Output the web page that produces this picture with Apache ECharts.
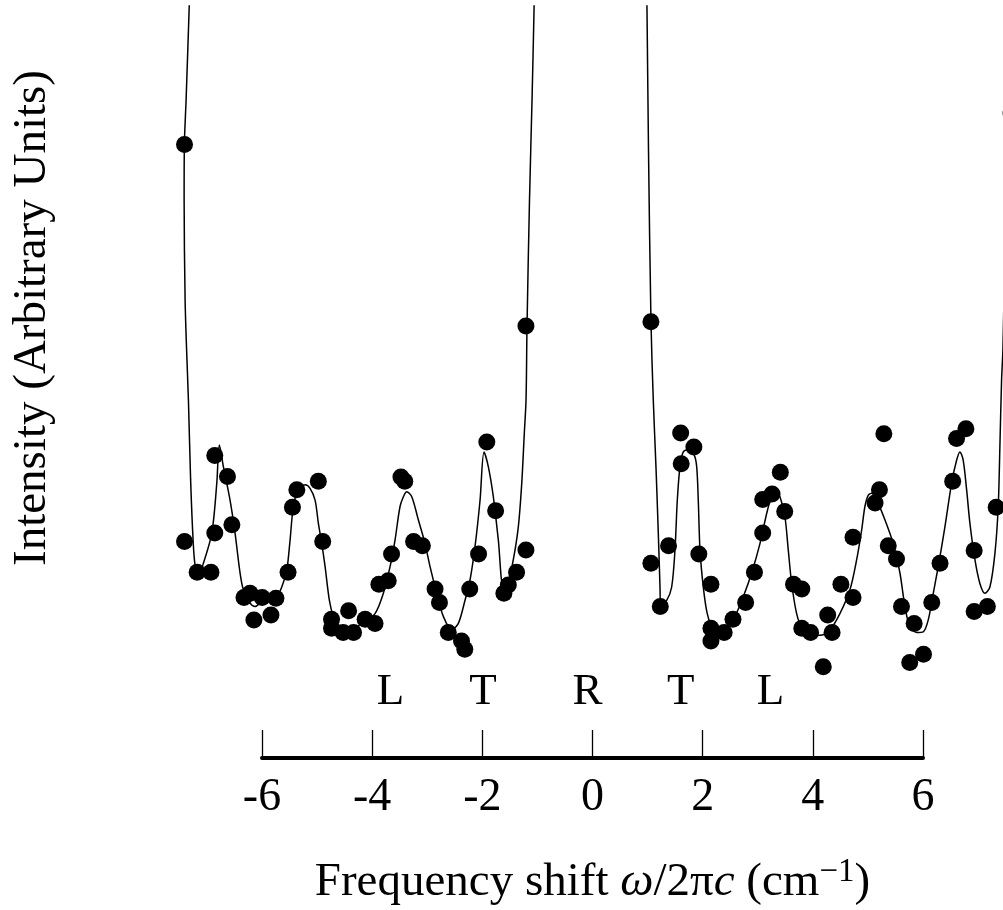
<!DOCTYPE html>
<html><head><meta charset="utf-8">
<script src="https://cdn.jsdelivr.net/npm/echarts@6/dist/echarts.min.js"></script>
<style>html,body{margin:0;padding:0;background:#fff}#c{width:1003px;height:910px}</style>
</head><body><div id="c"></div>
<script>
// Measured data points [frequency shift (cm^-1), intensity (arb.)]
const pointsNeg = [
  [-7.40,80.2],[-7.40,23.5],[-7.17,19.1],[-6.92,19.1],[-6.85,35.8],[-6.85,24.7],
  [-6.62,32.8],[-6.54,25.9],[-6.32,15.5],[-6.21,16.1],[-6.14,12.3],[-5.99,15.5],
  [-5.83,13.0],[-5.74,15.4],[-5.52,19.1],[-5.44,28.4],[-5.36,30.9],[-4.97,32.1],
  [-4.89,23.5],[-4.73,12.4],[-4.73,11.1],[-4.52,10.5],[-4.42,13.6],[-4.33,10.5],
  [-4.12,12.4],[-3.94,11.8],[-3.87,17.4],[-3.70,17.9],[-3.64,21.7],[-3.47,32.7],
  [-3.40,32.1],[-3.24,23.5],[-3.08,22.9],[-2.85,16.7],[-2.77,14.8],[-2.61,10.5],
  [-2.37,9.3],[-2.31,8.1],[-2.22,16.7],[-2.06,21.7],[-1.91,37.7],[-1.75,27.9],
  [-1.60,16.1],[-1.52,17.3],[-1.37,19.1],[-1.20,22.3],[-1.20,54.3]
];
const pointsPos = [
  [1.07,54.9],[1.07,20.4],[1.24,14.2],[1.39,22.9],[1.61,39.0],[1.62,34.6],
  [1.85,37.0],[1.94,21.7],[2.16,17.4],[2.16,11.1],[2.16,9.3],[2.40,10.5],
  [2.56,12.4],[2.79,14.8],[2.95,19.1],[3.10,24.7],[3.10,29.5],[3.27,30.3],
  [3.42,33.4],[3.50,27.8],[3.66,17.4],[3.81,16.7],[3.81,11.1],[3.97,10.5],
  [4.20,5.6],[4.28,13.0],[4.36,10.5],[4.52,17.4],[4.74,15.5],[4.74,24.1],
  [5.14,29.0],[5.22,30.9],[5.30,38.9],[5.38,22.9],[5.53,21.0],[5.62,14.2],
  [5.77,6.2],[5.85,11.8],[6.02,7.4],[6.17,14.8],[6.32,20.4],[6.55,32.1],
  [6.62,38.2],[6.79,39.6],[6.94,22.2],[6.94,13.5],[7.18,14.2],[7.34,28.4],
  [7.61,84.7]
];
// Fitted curve
const fitNeg = [
  [-7.299,103.7],[-7.317,99.3],[-7.371,86.6],[-7.402,80.3],[-7.407,72.3],[-7.389,58.0],
  [-7.362,50.9],[-7.329,43.7],[-7.289,32.3],[-7.244,23.7],[-7.208,20.1],[-7.148,18.7],
  [-7.057,20.4],[-6.904,24.7],[-6.814,31.8],[-6.767,37.3],[-6.694,34.2],[-6.573,29.4],
  [-6.482,24.7],[-6.391,19.0],[-6.331,16.6],[-6.209,14.7],[-6.118,14.2],[-5.997,14.9],
  [-5.846,15.1],[-5.724,15.6],[-5.634,17.0],[-5.543,19.4],[-5.483,23.7],[-5.423,28.5],
  [-5.332,30.9],[-5.211,31.6],[-5.120,31.1],[-5.029,29.4],[-4.969,26.1],[-4.907,23.2],
  [-4.847,19.9],[-4.769,15.1],[-4.697,12.8],[-4.606,11.6],[-4.484,10.9],[-4.339,11.0],
  [-4.152,12.0],[-3.940,13.2],[-3.789,16.1],[-3.667,19.9],[-3.577,23.7],[-3.486,28.5],
  [-3.413,30.1],[-3.364,30.6],[-3.273,29.9],[-3.154,26.6],[-3.032,23.2],[-2.941,19.9],
  [-2.820,16.1],[-2.700,12.8],[-2.547,10.9],[-2.427,11.8],[-2.306,15.1],[-2.215,18.0],
  [-2.124,22.8],[-2.033,29.4],[-1.961,36.3],[-1.883,34.2],[-1.792,29.9],[-1.701,23.7],
  [-1.610,17.0],[-1.520,17.8],[-1.429,20.9],[-1.338,25.6],[-1.276,31.8],[-1.229,39.0],
  [-1.198,43.7],[-1.180,54.3],[-1.135,72.3],[-1.089,86.6],[-1.053,99.3],[-1.044,103.7]
];
const fitPos = [
  [0.989,103.7],[0.999,99.3],[1.026,79.4],[1.071,54.9],[1.113,43.7],[1.162,34.1],
  [1.204,24.7],[1.235,17.0],[1.247,14.4],[1.356,15.1],[1.447,17.0],[1.507,22.3],
  [1.549,29.4],[1.598,34.2],[1.658,36.3],[1.748,36.6],[1.852,35.9],[1.901,34.2],
  [1.930,29.4],[1.961,22.3],[2.021,17.0],[2.093,13.2],[2.202,10.9],[2.324,10.4],
  [2.445,10.9],[2.596,12.8],[2.747,15.6],[2.899,19.0],[3.050,23.2],[3.172,27.5],
  [3.263,30.1],[3.322,30.9],[3.413,29.9],[3.504,27.0],[3.564,22.3],[3.626,17.5],
  [3.716,13.2],[3.807,11.3],[3.927,10.6],[3.989,10.1],[4.139,10.1],[4.321,10.9],
  [4.502,13.2],[4.684,16.6],[4.806,20.9],[4.896,25.1],[4.956,28.5],[5.016,30.1],
  [5.078,30.4],[5.169,29.4],[5.319,26.6],[5.470,23.2],[5.592,19.0],[5.683,14.2],
  [5.773,11.3],[5.895,10.5],[6.015,10.6],[6.106,12.3],[6.197,16.1],[6.287,19.9],
  [6.409,25.6],[6.530,31.8],[6.621,35.1],[6.681,36.3],[6.741,35.1],[6.803,30.9],
  [6.863,26.1],[6.954,20.9],[7.044,17.5],[7.135,16.1],[7.226,17.0],[7.317,21.8],
  [7.377,28.5],[7.407,37.0],[7.438,46.6],[7.462,50.9],[7.498,65.1],[7.553,86.6]
];
// Peak annotations
const peakLabels = ['L','T','R','T','L'];
const peakLabelX = [-3.66,-1.98,-0.08,1.61,3.24];
const peakLabelY = 2.0;
// Scale tick labels
const tickValues = [-6,-4,-2,0,2,4,6];
const tickLabels = ['-6','-4','-2','0','2','4','6'];

const FONT = "'Liberation Serif','DejaVu Serif',serif";
const chart = echarts.init(document.getElementById('c'), null, {renderer:'canvas'});

chart.setOption({
  backgroundColor:'#ffffff',
  animation:false,
  grid:[
    {left:179, width:826, top:6, height:700, outerBoundsMode:'none', containLabel:false},
    {left:262, width:661, top:700, height:58, outerBoundsMode:'none', containLabel:false}
  ],
  xAxis:[
    {gridIndex:0, type:'value', min:-7.5, max:7.5, show:false},
    {gridIndex:1, type:'value', min:-6, max:6, interval:2,
     axisLine:{show:true, onZero:false, lineStyle:{color:'#000', width:4}},
     axisTick:{show:true, inside:true, length:28, lineStyle:{color:'#000', width:1.3}},
     splitLine:{show:false},
     axisLabel:{show:true, margin:17, color:'#000', fontFamily:FONT, fontSize:46,
       formatter:function(v){const i=tickValues.indexOf(v);return i>=0?tickLabels[i]:'';}},
     name:'{t|Frequency shift }{i|ω}{t|/2π}{i|c}{t| (cm}{s|−1}{t|)}',
     nameLocation:'middle', nameGap:98,
     nameTextStyle:{color:'#000', fontFamily:FONT, fontSize:47,
       rich:{
         t:{fontFamily:FONT, fontSize:47, color:'#000'},
         i:{fontFamily:FONT, fontSize:47, color:'#000', fontStyle:'italic'},
         s:{fontFamily:FONT, fontSize:33, color:'#000', verticalAlign:'top', padding:[0,0,20,0]}
       }}
    }
  ],
  yAxis:[
    {gridIndex:0, type:'value', min:0, max:100, show:false},
    {gridIndex:1, type:'value', min:0, max:1, show:false}
  ],
  graphic:[
    {type:'text', x:33, y:318, rotation:Math.PI/2,
     style:{text:'Intensity (Arbitrary Units)', fill:'#000', font:"47px 'Liberation Serif', serif",
            align:'center', verticalAlign:'middle'}}
  ],
  series:[
    {type:'line', xAxisIndex:0, yAxisIndex:0, data:fitNeg, smooth:0.3, showSymbol:false,
     lineStyle:{color:'#000', width:1.5}, clip:true, silent:true, z:2},
    {type:'line', xAxisIndex:0, yAxisIndex:0, data:fitPos, smooth:0.3, showSymbol:false,
     lineStyle:{color:'#000', width:1.5}, clip:true, silent:true, z:2},
    {type:'scatter', xAxisIndex:0, yAxisIndex:0, data:pointsNeg.concat(pointsPos),
     symbol:'circle', symbolSize:17, itemStyle:{color:'#000', opacity:1}, clip:false, z:3},
    {type:'scatter', xAxisIndex:0, yAxisIndex:0,
     data:peakLabels.map(function(l,i){return {value:[peakLabelX[i], peakLabelY], name:l};}),
     symbolSize:1, itemStyle:{color:'#fff', opacity:0},
     label:{show:true, position:'inside', formatter:'{b}', color:'#000', opacity:1, fontFamily:FONT, fontSize:45},
     z:4}
  ]
});
</script>
</body></html>
